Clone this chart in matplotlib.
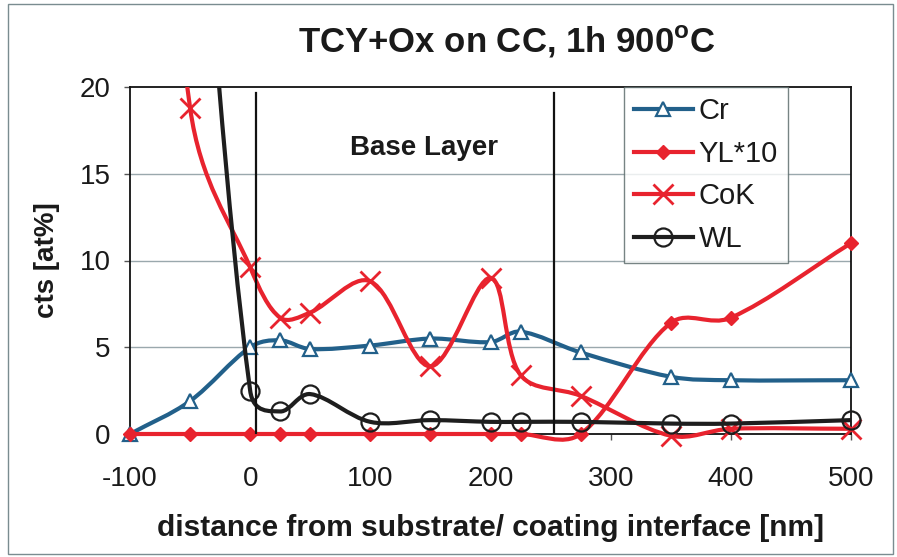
import numpy as np
import matplotlib
matplotlib.use("Agg")
import matplotlib.pyplot as plt
from matplotlib.path import Path
from matplotlib.patches import PathPatch, Rectangle
from matplotlib.lines import Line2D

plt.rcParams['font.family'] = ['Liberation Sans', 'DejaVu Sans']
plt.rcParams['axes.unicode_minus'] = False

# ---------------- data ----------------
x_pos = [-100, -50, 0, 25, 50, 100, 150, 200, 225, 275, 350, 400, 500]
cr    = [0.0, 1.9, 5.0, 5.4, 4.9, 5.1, 5.5, 5.3, 5.9, 4.7, 3.3, 3.1, 3.1]
yl10  = [0.0, 0.0, 0.0, 0.0, 0.0, 0.0, 0.0, 0.0, 0.0, 0.0, 6.4, 6.7, 11.0]
cok   = [60.0, 18.8, 9.6, 6.7, 7.0, 8.8, 3.9, 9.0, 3.4, 2.2, -0.1, 0.3, 0.3]
wl    = [80.0, 40.0, 2.5, 1.3, 2.3, 0.7, 0.8, 0.7, 0.7, 0.7, 0.6, 0.6, 0.8]
series_names = ["Cr", "YL*10", "CoK", "WL"]
layer_bounds = [5, 253]
x_ticks = [-100, 0, 100, 200, 300, 400, 500]
y_ticks = [0, 5, 10, 15, 20]

BLUE = "#22608a"
RED = "#e8232e"
BLACK = "#1e1e1e"
TXT = "#1a1a1a"

fig = plt.figure(figsize=(8.97, 5.57), dpi=100)
ax = fig.add_axes([130/897, 1-434/557, (851-130)/897, (434-87)/557])
ax.set_xlim(-100, 500)
ax.set_ylim(0, 20)

# pixel scales for smoothing (display-space aware)
sx = (851-130)/600.0
sy = (434-87)/20.0


def smooth_path(xs, ys, k=3.0):
    P = np.column_stack([np.asarray(xs, float), np.asarray(ys, float)])
    S = np.array([sx, sy])
    n = len(P)
    verts = [tuple(P[0])]
    codes = [Path.MOVETO]
    d = [np.linalg.norm((P[i+1]-P[i])*S) for i in range(n-1)]
    for i in range(n-1):
        p0 = P[i]; p1 = P[i+1]
        if i > 0:
            w = (d[i]/(d[i-1]+d[i]))**0.7 * 0.5**0.3
            t0 = (P[i+1]-P[i-1]) * w / k
        else:
            t0 = (P[i+1]-P[i]) / k
        if i+2 < n:
            w = (d[i]/(d[i]+d[i+1]))**0.7 * 0.5**0.3
            t1 = (P[i+2]-P[i]) * w / k
        else:
            t1 = (P[i+1]-P[i]) / k
        verts += [tuple(p0+t0), tuple(p1-t1), tuple(p1)]
        codes += [Path.CURVE4]*3
    return Path(verts, codes)


# grid
for yv in y_ticks[1:-1]:
    ax.axhline(yv, color="#9aa8ad", lw=1.0, zorder=1)

styles = [
    (cr, BLUE, dict(marker='^', ms=10, mfc='white', mec=BLUE, mew=1.6)),
    (yl10, RED, dict(marker='D', ms=7, mfc=RED, mec=RED, mew=1)),
    (cok, RED, dict(marker='x', ms=15, mec=RED, mew=2.0)),
    (wl, BLACK, dict(marker='o', ms=13, mfc='none', mec=BLACK, mew=1.6)),
]
handles = []
for k, (vals, col, mk) in enumerate(styles):
    pp = PathPatch(smooth_path(x_pos, vals), fill=False, edgecolor=col, lw=3.0,
                   zorder=3+k)
    ax.add_patch(pp)
    clip = Rectangle((-100, -1.5), 600, 21.5, transform=ax.transData)
    pp.set_clip_path(clip)
    vis = np.ma.masked_greater(np.asarray(vals, float), 20.5)
    ax.plot(x_pos, vis, linestyle='none', zorder=3.5+k, clip_on=False, **mk)
    handles.append(Line2D([], [], color=col, lw=3.0, **mk))

# layer boundaries
for xb in layer_bounds:
    ax.plot([xb, xb], [0, 19.65], color="#111111", lw=1.6, zorder=10)

ax.text(83, 16.5, "Base Layer", fontsize=20, fontweight='bold', color=TXT,
        ha='left', va='center', zorder=11)

ax.set_xticks(x_ticks)
ax.set_yticks(y_ticks)
ax.tick_params(axis='both', direction='out', length=4, width=1, color='#555555',
               labelsize=20, labelcolor=TXT)
ax.tick_params(axis='x', pad=19)
ax.tick_params(axis='y', pad=10)
for s in ax.spines.values():
    s.set_color("#111111")
    s.set_linewidth(1.3)

leg = ax.legend(handles, series_names, loc='upper left',
                bbox_to_anchor=((624-130)/721, 1.0), fontsize=21,
                frameon=True, fancybox=False, borderpad=0.35, labelspacing=0.5,
                handlelength=2.0, handletextpad=0.2, borderaxespad=0)
leg.get_frame().set_edgecolor("#556666")
leg.get_frame().set_linewidth(1.0)
leg.set_zorder(12)
for t in leg.get_texts():
    t.set_color(TXT)

fig.text(507/897, 1-42/557, "TCY+Ox on CC, 1h 900$^{\\mathregular{o}}$C", fontsize=25,
         fontweight='bold', ha='center', va='center', color=TXT)
fig.text(490/897, 1-528/557, "distance from substrate/ coating interface [nm]",
         fontsize=21.5, fontweight='bold', ha='center', va='center', color=TXT)
fig.text(47/897, 1-260/557, "cts [at%]", fontsize=20, fontweight='bold',
         ha='center', va='center', rotation=90, color=TXT)

fig.patches.append(Rectangle((8/897, 3/557), 885/897, 550/557, transform=fig.transFigure,
                             fill=False, edgecolor="#7a8c90", lw=1.0))

fig.savefig("out.png", dpi=100)
